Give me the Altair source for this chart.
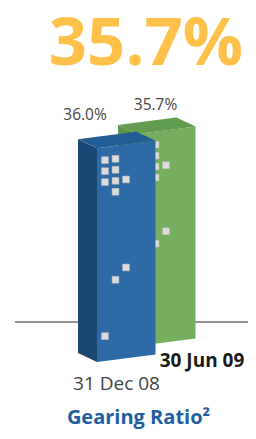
import altair as alt
import pandas as pd

# ---------------- data ----------------
categories = ["31 Dec 08", "30 Jun 09"]
values = [36.0, 35.7]
value_labels = ["36.0%", "35.7%"]
headline = "35.7%"
footer = "Gearing Ratio\u00b2"
current = [False, True]

# decorative windows on the front faces: (bar, column, row)
win_bar = [0, 0, 0, 0, 0, 0, 0, 0, 0, 0, 0, 1, 1, 1, 1, 1, 1, 1]
win_col = [0, 1, 0, 1, 0, 1, 2, 1, 2, 1, 0, 1, 1, 1, 1, 2, 2, 1]
win_row = [0, 0, 1, 1, 2, 2, 2, 3, 10, 11, 16, 0, 1, 2, 3, 2, 8, 9]

# ---------------- layout (pixels) ----------------
K = 5.94                 # px per percentage point
W_PX = (58.5, 7.5)       # front face width vector (right, up)
D_PX = (-19.0, 9.0)      # depth vector (to the back-left)
STEP_PX = (40.0, 16.0)   # shift between successive bars
ORIGIN = (97.0, 362.0)   # page position of first bar's front-left bottom
PLOT_X = (8.0, 248.0)
PLOT_Y = (84.0, 431.0)
BASE_Y = 322.0
RULE_X = (15.0, 248.0)
WIN = dict(x0=8.0, dx=10.5, y0=13.0, dy=11.0)
VAL_OFF = [(-12.0, 28.2), (18.5, 24.0)]   # value label offset from front-left top
CAT_OFF = [(19.5, -28.0), (65.0, -21.0)]  # category label offset from front-left bottom


def pu(px):
    return (px - ORIGIN[0]) / K


def pv(py):
    return (ORIGIN[1] - py) / K


X_DOM = [pu(PLOT_X[0]), pu(PLOT_X[1])]
Y_DOM = [pv(PLOT_Y[1]), pv(PLOT_Y[0])]
Wu, Wv = W_PX[0] / K, W_PX[1] / K
Du, Dv = D_PX[0] / K, D_PX[1] / K

faces = []
wins = []
vlabels = []
clabels = []
for i, h in enumerate(values):
    bu, bv = i * STEP_PX[0] / K, i * STEP_PX[1] / K
    tu, tv = bu, bv + h
    faces += [
        dict(face_id=f"{i}-side", u=bu + Du, lo=bv + Dv, hi=bv + Dv + h),
        dict(face_id=f"{i}-side", u=bu, lo=bv, hi=bv + h),
        dict(face_id=f"{i}-front", u=bu, lo=bv, hi=bv + h),
        dict(face_id=f"{i}-front", u=bu + Wu, lo=bv + Wv, hi=bv + Wv + h),
        dict(face_id=f"{i}-top", u=tu + Du, lo=tv + Dv, hi=tv + Dv),
        dict(face_id=f"{i}-top", u=tu, lo=tv, hi=tv + Dv + Wv * (-Du / Wu)),
        dict(face_id=f"{i}-top", u=tu + Du + Wu,
             lo=tv + Wv * ((Du + Wu) / Wu), hi=tv + Dv + Wv),
        dict(face_id=f"{i}-top", u=tu + Wu, lo=tv + Wv, hi=tv + Wv),
    ]
    vlabels.append(dict(bar=i, text=value_labels[i],
                        u=tu + VAL_OFF[i][0] / K, v=tv + VAL_OFF[i][1] / K))
    clabels.append(dict(bar=i, text=categories[i], cur=current[i],
                        u=bu + CAT_OFF[i][0] / K, v=bv + CAT_OFF[i][1] / K))

for b, c, r in zip(win_bar, win_col, win_row):
    tu, tv = b * STEP_PX[0] / K, b * STEP_PX[1] / K + values[b]
    off = (WIN["x0"] + c * WIN["dx"]) / K
    wins.append(dict(bar=b, u=tu + off,
                     v=tv + (Wv / Wu) * off - (WIN["y0"] + r * WIN["dy"]) / K))

faces = pd.DataFrame(faces)
wins = pd.DataFrame(wins)
vlabels = pd.DataFrame(vlabels)
clabels = pd.DataFrame(clabels)

FACE_KEYS = ["0-side", "0-front", "0-top", "1-side", "1-front", "1-top"]
FACE_COLS = ["#1a4672", "#2d6aa6", "#245c95", "#5c9449", "#74ae5e", "#629c4f"]

xs = alt.Scale(domain=X_DOM, nice=False, zero=False)
ys = alt.Scale(domain=Y_DOM, nice=False, zero=False)
XAX = alt.Axis(title=footer, labels=False, ticks=False, domain=False, grid=False,
               titleFont="Open Sans", titleFontSize=20, titleFontWeight="bold",
               titleColor="#1e5fa0", titleX=130, titleY=-8, titleBaseline="alphabetic",
               titleAlign="center")


def X(field="u"):
    return alt.X(f"{field}:Q", scale=xs, axis=XAX, title=footer)


def Y(field):
    return alt.Y(f"{field}:Q", scale=ys, axis=None)


rule_df = pd.DataFrame({"u": [pu(RULE_X[0])], "u2": [pu(RULE_X[1])], "v": [pv(BASE_Y)]})
rule = alt.Chart(rule_df).mark_rule(color="#6e6e6e", strokeWidth=1.3).encode(
    x=X(), x2="u2:Q", y=Y("v"))

layers = [rule]
for b in [1, 0]:
    for f in ["side", "front", "top"]:
        fid = f"{b}-{f}"
        sub = faces[faces.face_id == fid][["u", "lo", "hi"]].reset_index(drop=True)
        area = alt.Chart(sub).mark_area(
            fill=FACE_COLS[FACE_KEYS.index(fid)], fillOpacity=1).encode(
            x=X(), y=Y("hi"), y2=alt.Y2("lo"))
        layers.append(area)
    win = alt.Chart(wins).transform_filter(alt.datum.bar == b).mark_square(
        size=46, fill="#dcdcdc", stroke="#c4c4c4", strokeWidth=0.5, opacity=1).encode(
        x=X(), y=Y("v"))
    layers.append(win)

vtext = alt.Chart(vlabels).mark_text(font="Open Sans", fontSize=15.5, color="#444444",
                                     baseline="alphabetic", align="center").encode(
    x=X(), y=Y("v"), text="text:N")
ctext_reg = alt.Chart(clabels).transform_filter(~alt.datum.cur).mark_text(
    font="Open Sans", fontSize=19, color="#444444", baseline="alphabetic", align="center").encode(
    x=X(), y=Y("v"), text="text:N")
ctext_bold = alt.Chart(clabels).transform_filter(alt.datum.cur).mark_text(
    font="Open Sans", fontSize=19, fontWeight="bold", color="#1a1a1a",
    baseline="alphabetic", align="center").encode(
    x=X(), y=Y("v"), text="text:N")
layers += [vtext, ctext_reg, ctext_bold]

chart = alt.layer(*layers).properties(
    width=PLOT_X[1] - PLOT_X[0],
    height=PLOT_Y[1] - PLOT_Y[0],
    background="white",
    autosize=alt.AutoSizeParams(type="none"),
    padding={"top": PLOT_Y[0] - 8, "left": 0, "right": 0, "bottom": 0},
    title=alt.TitleParams(headline, font="Open Sans", fontSize=67, fontWeight="bold",
                          color="#ffc14a", anchor="middle", dx=18, dy=48, offset=0,
                          baseline="alphabetic"),
).configure_view(strokeWidth=0)

chart.save("out.html", embed_options={"renderer": "svg", "actions": False})
